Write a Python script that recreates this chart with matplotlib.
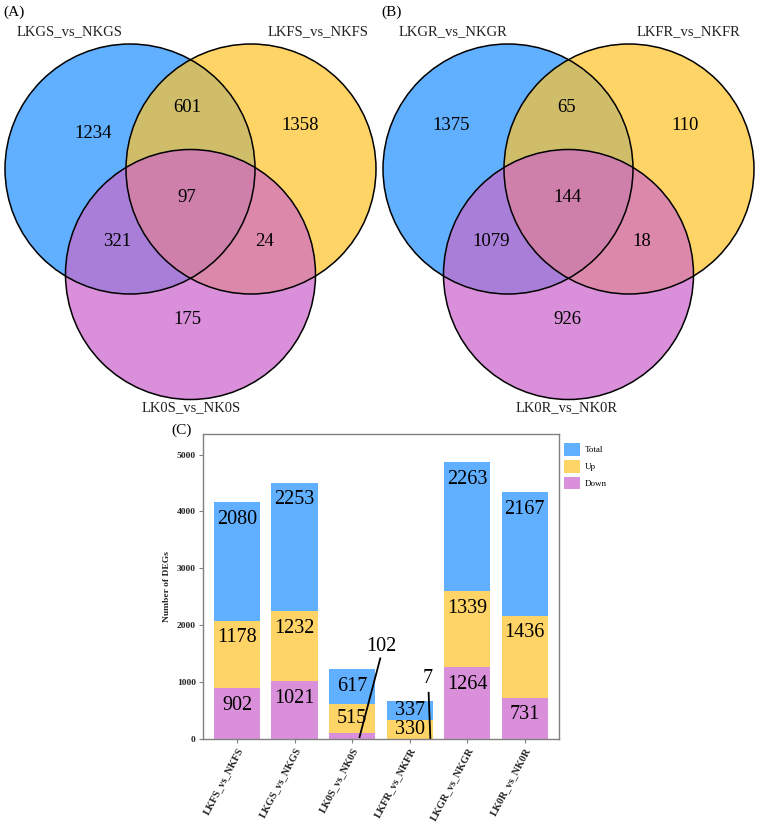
import matplotlib
matplotlib.use("Agg")
import matplotlib.pyplot as plt
import numpy as np
from matplotlib.patches import Circle, Polygon

plt.rcParams['font.family'] = ['Liberation Serif', 'DejaVu Serif']

# venn data: regions order = A only, B only, C only, AB, AC, BC, ABC
venn_a_sets = ["LKGS_vs_NKGS", "LKFS_vs_NKFS", "LK0S_vs_NK0S"]
venn_a_counts = [1234, 1358, 175, 601, 321, 24, 97]
venn_b_sets = ["LKGR_vs_NKGR", "LKFR_vs_NKFR", "LK0R_vs_NK0R"]
venn_b_counts = [1375, 110, 926, 65, 1079, 18, 144]

# bar data
comparisons = ["LKFS_vs_NKFS", "LKGS_vs_NKGS", "LK0S_vs_NK0S",
               "LKFR_vs_NKFR", "LKGR_vs_NKGR", "LK0R_vs_NK0R"]
down = [902, 1021, 102, 7, 1264, 731]
up = [1178, 1232, 515, 330, 1339, 1436]
total = [2080, 2253, 617, 337, 2263, 2167]

BLUE = "#61AFFF"
YELLOW = "#FFD466"
PINK = "#DA8FDA"
region_colors = [BLUE, YELLOW, PINK, "#CFBD6A", "#A87ED8", "#DC88AA", "#CE80AA"]

W, H = 757, 824
fig = plt.figure(figsize=(W / 100, H / 100), dpi=100)

R = 125
centers = [(130, 169), (251, 169), (190.5, 274.5)]


def inter_poly(idx):
    pts = []
    t = np.linspace(0, 2 * np.pi, 720, endpoint=False)
    for i in idx:
        cx, cy = centers[i]
        p = np.c_[cx + R * np.cos(t), cy + R * np.sin(t)]
        ok = np.ones(len(p), bool)
        for j in idx:
            if j != i:
                ok &= np.hypot(p[:, 0] - centers[j][0], p[:, 1] - centers[j][1]) <= R + 1e-6
        pts.append(p[ok])
    pts = np.vstack(pts)
    c = pts.mean(axis=0)
    order = np.argsort(np.arctan2(pts[:, 1] - c[1], pts[:, 0] - c[0]))
    return pts[order]


def draw_venn(x0, w, sets, counts, count_pos, set_pos, tag):
    ax = fig.add_axes([x0 / W, 1 - 420 / H, w / W, 420 / H])
    ax.set_xlim(0, w)
    ax.set_ylim(420, 0)
    ax.axis("off")
    for i in range(3):
        ax.add_patch(Circle(centers[i], R, facecolor=region_colors[i], edgecolor="none"))
    for k, idx in enumerate([(0, 1), (0, 2), (1, 2), (0, 1, 2)]):
        ax.add_patch(Polygon(inter_poly(idx), closed=True,
                             facecolor=region_colors[3 + k], edgecolor="none"))
    for i in range(3):
        ax.add_patch(Circle(centers[i], R, facecolor="none", edgecolor="black", lw=1.1))
    for n, (px, py) in zip(counts, count_pos):
        ax.text(px, py, str(n), fontsize=13.5, ha="center", va="center")
    for s, (px, py) in zip(sets, set_pos):
        ax.text(px, py, s, fontsize=10.5, ha="center", va="center", color="#222222")
    ax.text(3, 12, tag, fontsize=11, ha="left", va="center")


draw_venn(0, 378, venn_a_sets, venn_a_counts,
          [(93, 134), (300, 126), (187, 320), (187, 108), (117, 242), (264, 242), (187, 197)],
          [(70, 32), (318, 32), (191, 408)], "(A)")
draw_venn(378, 379, venn_b_sets, venn_b_counts,
          [(73, 126), (307, 126), (189, 320), (189, 108), (113, 242), (264, 242), (189, 197)],
          [(75, 32), (310, 32), (189, 408)], "(B)")

# stacked bars
ax = fig.add_axes([202.7 / W, 1 - 739.3 / H, (559 - 202.7) / W, (739.3 - 434) / H])
x = np.arange(len(comparisons))
down = np.array(down)
up = np.array(up)
total = np.array(total)
ax.bar(x, down, width=0.8, color=PINK, label="Down")
ax.bar(x, up, bottom=down, width=0.8, color=YELLOW, label="Up")
ax.bar(x, total, bottom=down + up, width=0.8, color=BLUE, label="Total")
ax.set_xlim(-0.595, 5.595)
ax.set_ylim(0, 5360)
ax.set_yticks([0, 1000, 2000, 3000, 4000, 5000])
ax.set_xticks(x)
ax.set_xticklabels(comparisons, rotation=62, ha="right", rotation_mode="anchor",
                   fontsize=7.5, fontweight="bold")
for lbl in ax.get_yticklabels():
    lbl.set_fontsize(6.8)
    lbl.set_fontweight("bold")
for sp in ax.spines.values():
    sp.set_color("#808080")
    sp.set_linewidth(1.0)
ax.tick_params(color="#808080", labelcolor="#262626", length=3, width=0.8, pad=2)
ax.set_ylabel("Number of DEGs", fontsize=6.8, fontweight="bold", labelpad=4, color="#262626")

bottoms = [np.zeros(6), down, down + up]
for seg, bot in zip([down, up, total], bottoms):
    for i in range(6):
        if seg[i] < 150:
            continue
        top = bot[i] + seg[i]
        ypos = top - min(0.5 * seg[i], 300)
        ax.text(x[i], ypos, str(seg[i]), fontsize=14.5, ha="center", va="center")

# small segments labelled with leader lines
ax.plot([2 + 0.13, 2 + 0.49], [40, 1421], color="black", lw=1.3)
ax.text(2 + 0.51, 1625, str(down[2]), fontsize=14.5, ha="center", va="center")
ax.plot([3 + 0.33, 3 + 0.36], [817, 0], color="black", lw=1.3)
ax.text(3 + 0.315, 1070, str(down[3]), fontsize=14.5, ha="center", va="center")

h, l = ax.get_legend_handles_labels()
fig.legend(h[::-1], l[::-1], loc="upper left", bbox_to_anchor=(564 / W, 1 - 443 / H),
           frameon=False, fontsize=6.5, handlelength=1.8, handleheight=1.8,
           labelspacing=0.45, handletextpad=0.5, borderpad=0, borderaxespad=0)

fig.text(171 / W, 1 - 430 / H, "(C)", fontsize=11, ha="left", va="center")

fig.savefig("out.png", dpi=100)
